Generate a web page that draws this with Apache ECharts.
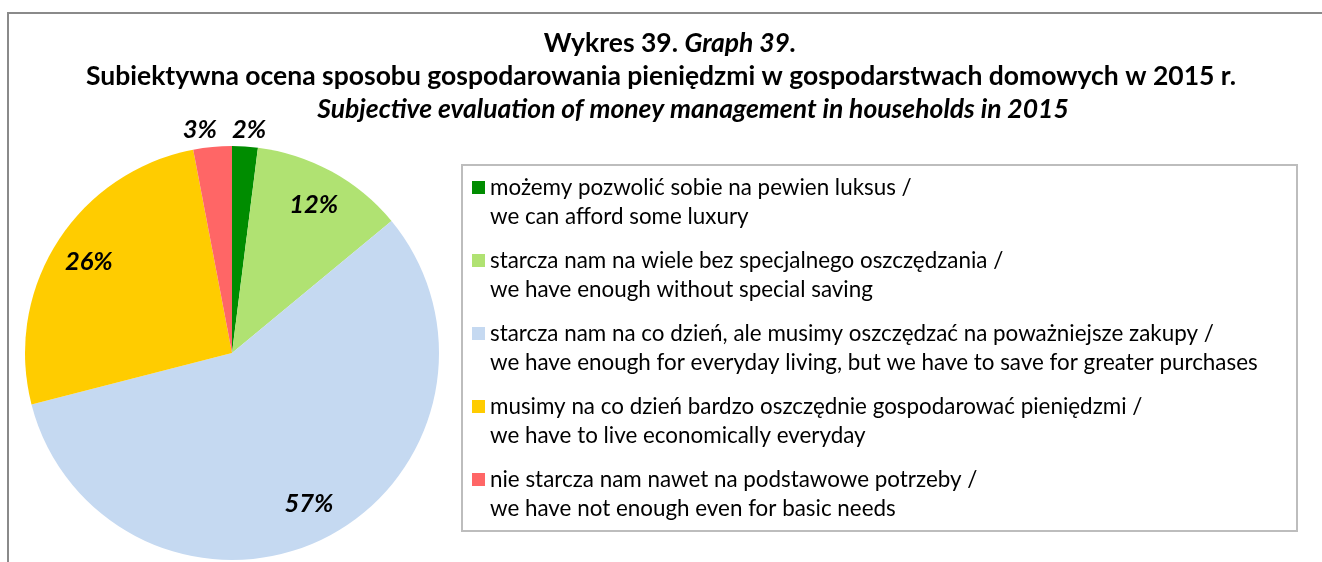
<!DOCTYPE html>
<html>
<head>
<meta charset="utf-8">
<title>Wykres 39</title>
<style>
  html, body { margin: 0; padding: 0; background: #ffffff; }
  #chart { width: 1322px; height: 562px; }
</style>
<script src="https://cdn.jsdelivr.net/npm/echarts@6/dist/echarts.min.js"></script>
</head>
<body>
<div id="chart"></div>
<script>
// Answer categories (Polish / English) and their shares in percent
const categoriesPl = [
  'możemy pozwolić sobie na pewien luksus',
  'starcza nam na wiele bez specjalnego oszczędzania',
  'starcza nam na co dzień, ale musimy oszczędzać na poważniejsze zakupy',
  'musimy na co dzień bardzo oszczędnie gospodarować pieniędzmi',
  'nie starcza nam nawet na podstawowe potrzeby'
];
const categoriesEn = [
  'we can afford some luxury',
  'we have enough without special saving',
  'we have enough for everyday living, but we have to save for greater purchases',
  'we have to live economically everyday',
  'we have not enough even for basic needs'
];
const shares = [2, 12, 57, 26, 3];
const sliceColors = ['#008C00', '#B0E272', '#C5D9F1', '#FFCC00', '#FF6666'];

const titleMain = ['Wykres 39. ', 'Graph 39.'];
const titleLinePl = 'Subiektywna ocena sposobu gospodarowania pieniędzmi w gospodarstwach domowych w 2015 r.';
const titleLineEn = 'Subjective evaluation of money management in households in 2015';

const FONT = 'Lato, "Noto Sans", sans-serif';
const CENTER = [232, 353];
const R = 207;

// Small slices get their label above the rim instead of inside
const outsideNudge = { 0: -14, 4: -6 };

// Legend marker: a square at the top of a taller box, so it sits beside the
// first of the two text lines (the tiny segment at the bottom only stretches the box)
const LEGEND_ICON = 'path://M0,0H13V13H0Z M0,42L0.01,42';

const chart = echarts.init(document.getElementById('chart'), null, { renderer: 'canvas' });

const TITLE_SIZE = 26.5;
const titleStyle = {
  b:  { fontFamily: FONT, fontWeight: 'bold', fontSize: TITLE_SIZE, lineHeight: 33, color: '#000' },
  bi: { fontFamily: FONT, fontWeight: 'bold', fontStyle: 'italic', fontSize: TITLE_SIZE, lineHeight: 33, color: '#000' },
  s1: { width: 18, lineHeight: 33 },
  s3: { width: 64, lineHeight: 33 }
};

const labelData = shares.map((v, i) => {
  const item = { name: categoriesPl[i], value: v };
  if (v < 5) {
    item.label = { position: 'outside', distanceToLabelLine: outsideNudge[i] || 0 };
    item.labelLine = { show: true, length: 17, length2: 0, lineStyle: { color: 'rgba(0,0,0,0)', width: 0 } };
  }
  return item;
});

const option = {
  backgroundColor: '#ffffff',
  animation: false,
  title: {
    left: 'center',
    top: 27,
    padding: 0,
    text: '{s1| }{b|' + titleMain[0] + '}{bi|' + titleMain[1] + '}\n' +
          '{b|' + titleLinePl + '}\n' +
          '{s3| }{bi|' + titleLineEn + '}',
    textStyle: { rich: titleStyle, fontFamily: FONT, fontSize: TITLE_SIZE, lineHeight: 33 }
  },
  legend: {
    orient: 'vertical',
    left: 472,
    top: 173,
    padding: 0,
    icon: LEGEND_ICON,
    itemWidth: 13,
    itemHeight: 42,
    itemGap: 15,
    itemStyle: { borderWidth: 0 },
    selectedMode: false,
    data: categoriesPl,
    formatter: (name) => name + ' /\n' + categoriesEn[categoriesPl.indexOf(name)],
    textStyle: {
      fontFamily: FONT,
      fontSize: 22.4,
      color: '#000',
      lineHeight: 29
    }
  },
  graphic: [
    // outer frame (top and left edges)
    { type: 'line', shape: { x1: 7, y1: 13, x2: 1322, y2: 13 }, style: { stroke: '#8a8a8a', lineWidth: 2 }, silent: true },
    { type: 'line', shape: { x1: 8, y1: 13, x2: 8, y2: 562 }, style: { stroke: '#8a8a8a', lineWidth: 2 }, silent: true },
    // legend frame
    { type: 'rect', shape: { x: 462, y: 165, width: 835, height: 366 }, style: { fill: 'none', stroke: '#bdbdbd', lineWidth: 2 }, silent: true, z: -1 }
  ],
  series: [
    {
      type: 'pie',
      center: CENTER,
      radius: R,
      startAngle: 90,
      clockwise: true,
      avoidLabelOverlap: false,
      silent: true,
      label: { show: false },
      labelLine: { show: false },
      itemStyle: { borderWidth: 0 },
      emphasis: { disabled: true },
      data: shares.map((v, i) => ({
        name: categoriesPl[i],
        value: v,
        itemStyle: { color: sliceColors[i] }
      }))
    },
    {
      // label ring: places the value labels near the outer part of each slice
      type: 'pie',
      center: CENTER,
      radius: [126, R],
      startAngle: 90,
      clockwise: true,
      avoidLabelOverlap: false,
      silent: true,
      itemStyle: { color: 'rgba(0,0,0,0)', borderWidth: 0 },
      emphasis: { disabled: true },
      labelLine: { show: false },
      label: {
        show: true,
        position: 'inside',
        formatter: '{c}%',
        fontFamily: FONT,
        fontWeight: 'bold',
        fontStyle: 'italic',
        fontSize: 25.5,
        color: '#000'
      },
      data: labelData
    }
  ]
};

chart.setOption(option);
</script>
</body>
</html>
